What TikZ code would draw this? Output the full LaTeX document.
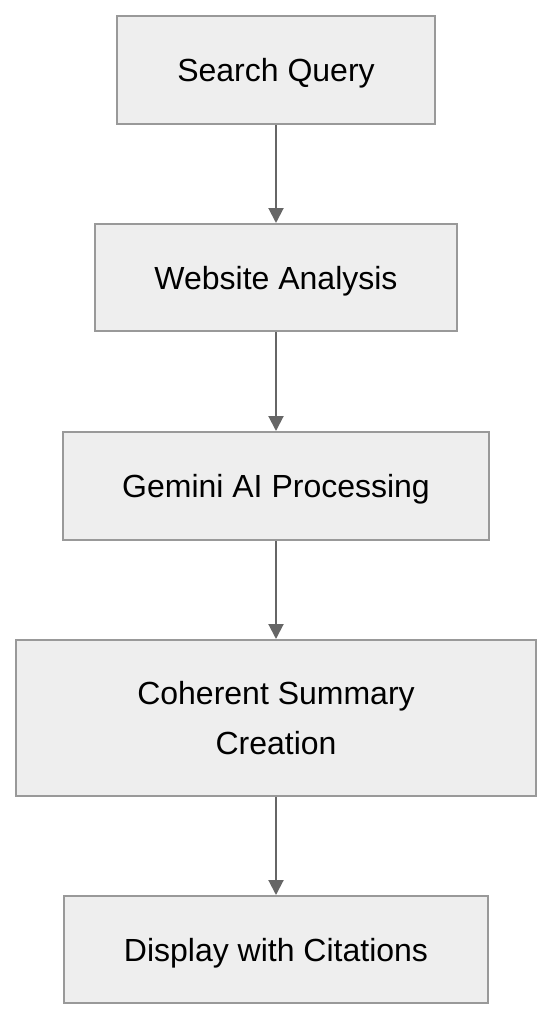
\documentclass[tikz,border=0pt]{standalone}
\usepackage{fontspec}
\setmainfont{Liberation Sans}
\usepackage{tikz}
\usetikzlibrary{arrows.meta}

\definecolor{boxfill}{HTML}{EEEEEE}
\definecolor{boxline}{HTML}{999999}
\definecolor{arrowline}{HTML}{666666}

\tikzset{
  stepbox/.style={draw=boxline, fill=boxfill, line width=2, inner sep=0pt,
    align=center, text depth=0pt, font=\fontsize{32}{50}\selectfont},
  flow/.style={draw=arrowline, line width=2,
    -{Triangle[width=15,length=15]}}
}

\begin{document}
\begin{tikzpicture}[x=1pt,y=1pt,yscale=-1]
\useasboundingbox (0,0) rectangle (552,1020);

% Boxes
\node [stepbox, minimum width=318, minimum height=108] (query) at (276,70) {Search Query};
\node [stepbox, minimum width=362, minimum height=107] (website) at (276,277.5) {Website Analysis};
\node [stepbox, minimum width=426, minimum height=108] (gemini) at (276,486) {Gemini AI Processing};
\node [stepbox, minimum width=520, minimum height=156] (summary) at (276,718) {Coherent Summary\\Creation};
\node [stepbox, minimum width=424, minimum height=107] (display) at (276,949.5) {Display with Citations};

% Arrows
\draw [flow] (query) -- (website);
\draw [flow] (website) -- (gemini);
\draw [flow] (gemini) -- (summary);
\draw [flow] (summary) -- (display);

\end{tikzpicture}
\end{document}
